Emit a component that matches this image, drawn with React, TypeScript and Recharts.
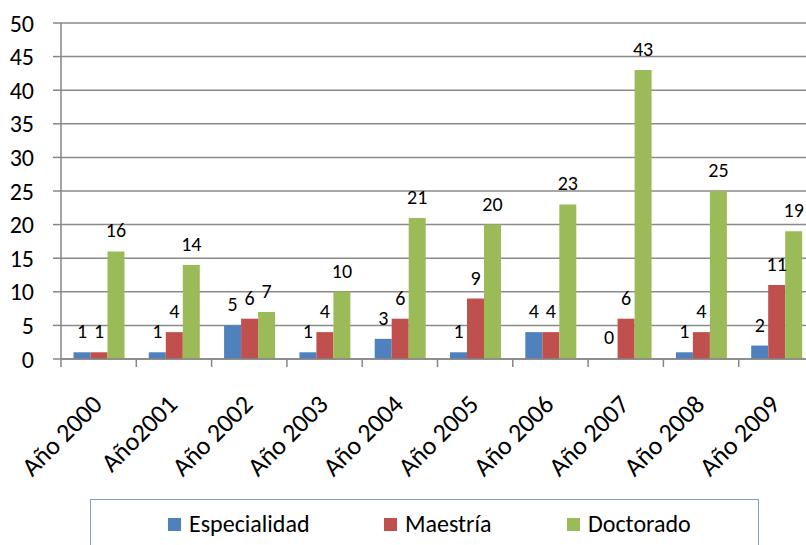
import React from "react";
import { BarChart, Bar, XAxis, YAxis, CartesianGrid, Legend, LabelList, Rectangle } from "recharts";

const categories = ["Año 2000", "Año2001", "Año 2002", "Año 2003", "Año 2004", "Año 2005", "Año 2006", "Año 2007", "Año 2008", "Año 2009"];
const especialidad = [1, 1, 5, 1, 3, 1, 4, 0, 1, 2];
const maestria = [1, 4, 6, 4, 6, 9, 4, 6, 4, 11];
const doctorado = [16, 14, 7, 10, 21, 20, 23, 43, 25, 19];
const yTicks = [0, 5, 10, 15, 20, 25, 30, 35, 40, 45, 50];

const seriesInfo = [
  { key: "esp", name: "Especialidad", color: "#4F81BD" },
  { key: "mae", name: "Maestría", color: "#C0504D" },
  { key: "doc", name: "Doctorado", color: "#9BBB59" },
];

const data = categories.map((c, i) => ({
  cat: c,
  esp: especialidad[i],
  mae: maestria[i],
  doc: doctorado[i],
}));

const FONT = "Carlito, Calibri, Lato, 'Open Sans', sans-serif";
const CHART_W = 814;
const Y_W = 61;
const BAND = (CHART_W - Y_W) / categories.length;

const XTick = (props: any) => {
  const { x, y, payload } = props;
  const ax = x + 5;
  const ay = y + 39;
  return (
    <g>
      <line x1={x - BAND / 2} y1={y - 8} x2={x - BAND / 2} y2={y} stroke="#868686" strokeWidth={1.5} />
      <text
        x={ax}
        y={ay}
        textAnchor="end"
        fontSize={26}
        fontFamily={FONT}
        fill="#000"
        transform={`rotate(-45, ${ax}, ${ay})`}
      >
        {payload.value}
      </text>
    </g>
  );
};

const ValueLabel = (props: any) => {
  const { x, y, width, value } = props;
  if (value === undefined || value === null) return null;
  return (
    <text
      x={Number(x) + Number(width) / 2}
      y={Number(y) - 14}
      textAnchor="middle"
      fontSize={20}
      fontFamily={FONT}
      fill="#000"
    >
      {value}
    </text>
  );
};

const makeShape = (key: string) => (props: any) => {
  if (props.payload && props.payload[key] === 0) return <g />;
  return <Rectangle {...props} />;
};

const LegendBox = () => (
  <div
    style={{
      position: "relative",
      width: 669,
      height: 46,
      borderTop: "1.5px solid #7f9fd0",
      borderLeft: "1.5px solid #7f9fd0",
      borderRight: "1.5px solid #7f9fd0",
      boxSizing: "border-box",
      fontFamily: FONT,
      fontSize: 24,
      color: "#000",
    }}
  >
    {seriesInfo.map((s, i) => {
      const left = [77, 293, 476][i];
      return (
        <div key={s.key} style={{ position: "absolute", left, top: 9, display: "flex", alignItems: "center", whiteSpace: "nowrap", lineHeight: "30px" }}>
          <span style={{ display: "inline-block", width: 13, height: 13, background: s.color, marginRight: 8 }} />
          <span>{s.name}</span>
        </div>
      );
    })}
  </div>
);

export default function App() {
  return (
    <div style={{ position: "absolute", left: 0, top: 0, width: 806, height: 545, overflow: "hidden", background: "#fff" }}>
      <BarChart
        width={CHART_W}
        height={545}
        data={data}
        margin={{ top: 23, right: 0, bottom: 0, left: 0 }}
        barCategoryGap="16.6%"
        barGap={0}
      >
        <CartesianGrid horizontal={true} vertical={false} stroke="#8a8a8a" strokeWidth={1.5} />
        <XAxis
          dataKey="cat"
          height={140}
          interval={0}
          tick={<XTick />}
          tickLine={false}
          axisLine={{ stroke: "#868686", strokeWidth: 1.5 }}
        />
        <YAxis
          width={Y_W}
          domain={[0, 50]}
          ticks={yTicks}
          interval={0}
          tickSize={8}
          tickMargin={19}
          tick={{ fontSize: 24, fontFamily: FONT, fill: "#000" }}
          tickLine={{ stroke: "#868686", strokeWidth: 1.5 }}
          axisLine={{ stroke: "#868686", strokeWidth: 1.5 }}
        />
        <Legend
          verticalAlign="bottom"
          content={<LegendBox />}
          wrapperStyle={{ left: 90, width: 669, height: 46 }}
        />
        {seriesInfo.map((s) => (
          <Bar
            key={s.key}
            dataKey={s.key}
            name={s.name}
            fill={s.color}
            minPointSize={1}
            shape={makeShape(s.key)}
            isAnimationActive={false}
          >
            <LabelList dataKey={s.key} content={<ValueLabel />} />
          </Bar>
        ))}
      </BarChart>
    </div>
  );
}
